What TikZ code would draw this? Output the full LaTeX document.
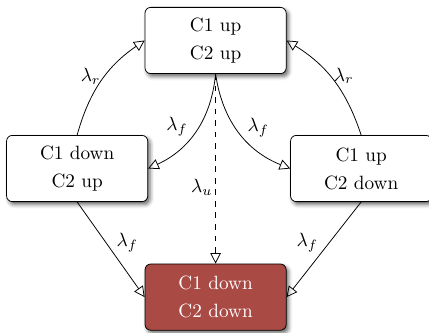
\documentclass[tikz,border=0pt]{standalone}
\usepackage{amsmath}
\usepackage{amssymb}
\usetikzlibrary{arrows.meta,shadows.blur}

\definecolor{faildred}{RGB}{170,74,68}

\begin{document}
\begin{tikzpicture}[>={Triangle[open,length=5.5pt,width=5.5pt]},
  state/.style={rectangle, draw, rounded corners=3pt, fill=white, align=center,
    minimum width=2.58cm, minimum height=1.21cm, font={\fontsize{10}{14.5}\selectfont},
    blur shadow={shadow xshift=1.2pt, shadow yshift=-1.5pt, shadow blur radius=2pt, shadow opacity=60}},
  failed/.style={state, fill=faildred, text=white}]
  \useasboundingbox (0,0) rectangle (7.84,6.07);

  \node[state]  (upup)     at (3.94, 5.33) {C1 up\\C2 up};
  \node[state]  (downup)   at (1.41, 2.99) {C1 down\\C2 up};
  \node[state]  (updown)   at (6.60, 2.99) {C1 up\\C2 down};
  \node[failed] (downdown) at (3.94, 0.64) {C1 down\\C2 down};

  \draw[->] (downup.north) to[bend left=20] node[left, pos=0.55, inner sep=2pt] {$\lambda_r$} (upup.west);
  \draw[->] (updown.north) to[bend right=20] node[right, pos=0.55, inner sep=2pt] {$\lambda_r$} (upup.east);
  \draw[->] (upup.south) to[bend left=30] node[above left, pos=0.58, inner sep=1pt] {$\lambda_f$} (downup.east);
  \draw[->] (upup.south) to[bend right=30] node[above right, pos=0.58, inner sep=1pt] {$\lambda_f$} (updown.west);
  \draw[->, dashed] (upup.south) -- node[left, pos=0.6, inner sep=1.5pt] {$\lambda_u$} (downdown.north);
  \draw[->] (downup.south) -- node[above right, pos=0.55, inner sep=1pt] {$\lambda_f$} (downdown.west);
  \draw[->] (updown.south) -- node[above left, pos=0.55, inner sep=1pt] {$\lambda_f$} (downdown.east);
\end{tikzpicture}
\end{document}
